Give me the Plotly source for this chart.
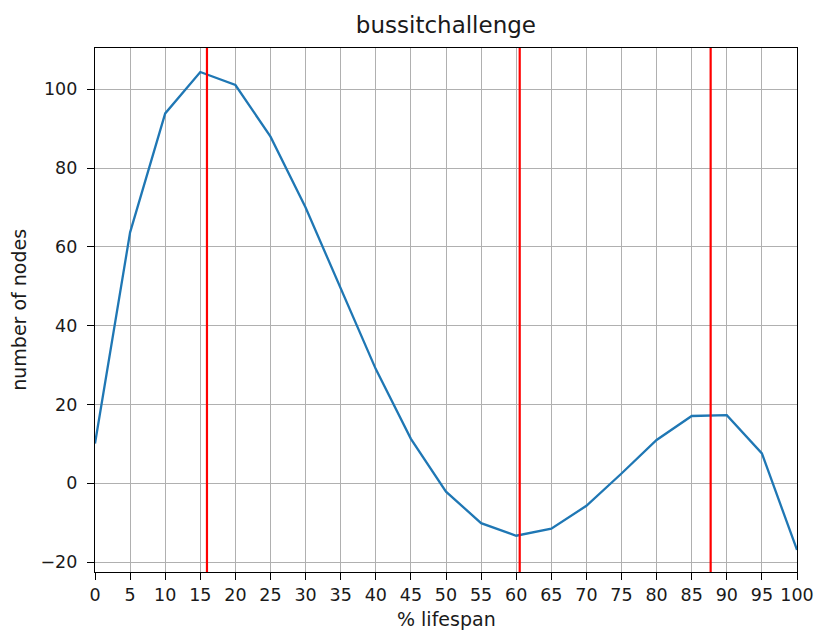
import plotly.graph_objects as go

# % lifespan sample points and node counts
lifespan = [0, 5, 10, 15, 20, 25, 30, 35, 40, 45, 50, 55, 60, 65, 70, 75, 80, 85, 90, 95, 100]
nodes = [10.1, 63.7, 93.9, 104.4, 101.1, 88.0, 70.0, 49.3, 29.0, 11.3, -2.1, -10.1, -13.3, -11.5,
         -5.7, 2.5, 11.0, 17.1, 17.3, 7.6, -16.9]

# marker positions drawn as vertical red lines
markers = [15.95, 60.5, 87.7]

x_ticks = list(range(0, 101, 5))
y_ticks = [-20, 0, 20, 40, 60, 80, 100]

FONT = "DejaVu Sans"
TEXT = "#1a1a1a"

fig = go.Figure()
fig.add_trace(go.Scatter(
    x=lifespan, y=nodes, mode="lines",
    line=dict(color="#1f77b4", width=2.3),
    showlegend=False, hoverinfo="skip",
))

for m in markers:
    fig.add_shape(type="line", xref="x", yref="paper", x0=m, x1=m, y0=0, y1=1,
                  line=dict(color="red", width=2.2))

axis_common = dict(
    showline=True, linecolor="black", linewidth=1.3, mirror=True,
    showgrid=True, gridcolor="#b0b0b0", gridwidth=1,
    ticks="outside", ticklen=7, tickcolor="black", tickwidth=1.2,
    zeroline=False, automargin=False,
    tickfont=dict(family=FONT, size=17.5, color=TEXT),
)

fig.update_xaxes(
    range=[0, 100], tickvals=x_ticks, ticktext=[str(t) for t in x_ticks],
    **axis_common,
)
fig.update_yaxes(
    range=[-22.5, 110.5], tickvals=y_ticks, ticktext=[str(t).replace("-", "\u2212") for t in y_ticks],
    ticklabelstandoff=6,
    **axis_common,
)

# axis titles placed as annotations for exact positioning
fig.add_annotation(text="% lifespan", xref="paper", yref="paper", x=0.5, y=-0.0905,
                   xanchor="center", yanchor="middle", showarrow=False,
                   font=dict(family=FONT, size=19, color=TEXT))
fig.add_annotation(text="number of nodes", xref="paper", yref="paper", x=-0.1086, y=0.5,
                   xanchor="center", yanchor="middle", showarrow=False, textangle=-90,
                   font=dict(family=FONT, size=19, color=TEXT))

fig.update_layout(
    width=816, height=630,
    margin=dict(l=95, r=19, t=48, b=58),
    paper_bgcolor="white", plot_bgcolor="white",
    title=dict(text="bussitchallenge", x=0.5465, xanchor="center", y=0.96, yanchor="middle",
               font=dict(family=FONT, size=23, color=TEXT)),
)

fig.write_html("out.html")
